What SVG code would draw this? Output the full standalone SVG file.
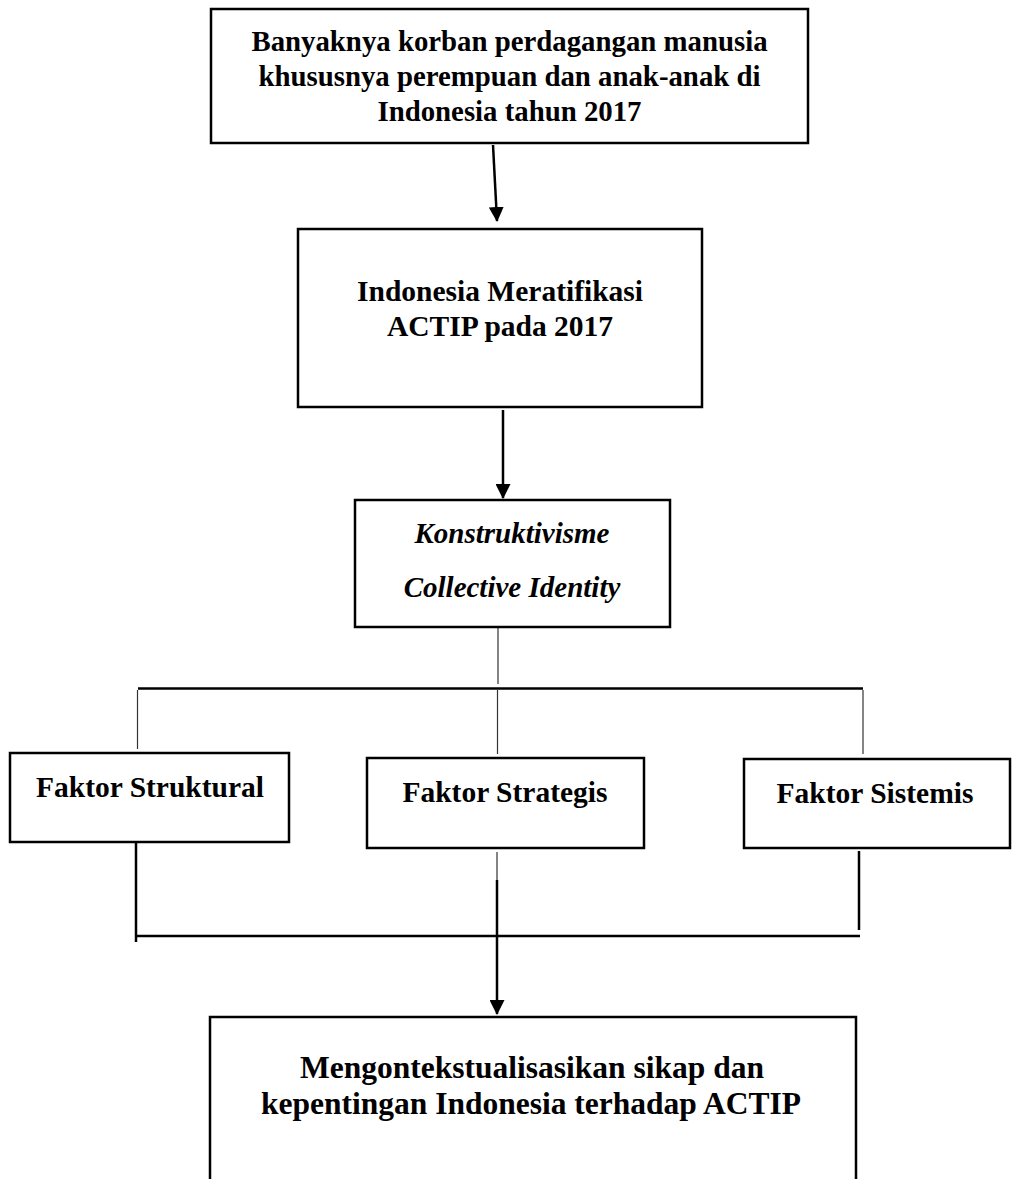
<svg xmlns="http://www.w3.org/2000/svg" width="1012" height="1179" viewBox="0 0 1012 1179">
<style>
.box{fill:#fff;stroke:#000;stroke-width:2.5}
.t{font-family:"Liberation Serif","Times New Roman",serif;font-weight:bold;fill:#000;text-anchor:middle}
.i{font-style:italic}
.thin{stroke:#333;stroke-width:1.2;fill:none}
.thick{stroke:#000;stroke-width:2.5;fill:none}
</style>
<defs>
<marker id="ah" markerWidth="15" markerHeight="15" refX="14" refY="7.5" orient="auto" markerUnits="userSpaceOnUse" viewBox="0 0 15 15">
<path d="M0,0 L15,7.5 L0,15 z" fill="#000"/>
</marker>
</defs>
<rect width="1012" height="1179" fill="#fff"/>
<g id="connectors">
<line class="thick" x1="493" y1="145" x2="497" y2="221" marker-end="url(#ah)"/>
<line class="thick" x1="503" y1="410" x2="503" y2="498" marker-end="url(#ah)"/>
<line class="thin" x1="498" y1="628" x2="498" y2="684"/>
<line class="thick" x1="138" y1="688.5" x2="863" y2="688.5"/>
<line class="thin" x1="137.5" y1="690" x2="137.5" y2="749"/>
<line class="thin" x1="497.5" y1="690" x2="497.5" y2="754"/>
<line class="thin" x1="863" y1="690" x2="863" y2="754"/>
<line class="thick" x1="136" y1="835" x2="136" y2="942"/>
<line class="thin" x1="497" y1="852" x2="497" y2="882"/>
<line class="thick" x1="859" y1="851" x2="859" y2="930"/>
<line class="thick" x1="136" y1="936" x2="860" y2="936"/>
<line class="thick" x1="497" y1="880" x2="497" y2="1014" marker-end="url(#ah)"/>
</g>
<g id="n1">
<rect class="box" x="211" y="9" width="597" height="134"/>
<text class="t" x="509.5" y="51" font-size="28.8">Banyaknya korban perdagangan manusia</text>
<text class="t" x="509.5" y="86" font-size="28.8">khususnya perempuan dan anak-anak di</text>
<text class="t" x="509.5" y="121" font-size="28.8">Indonesia tahun 2017</text>
</g>
<g id="n2">
<rect class="box" x="298" y="229" width="404" height="178"/>
<text class="t" x="500" y="301" font-size="29.5">Indonesia Meratifikasi</text>
<text class="t" x="500" y="336" font-size="29.5">ACTIP pada 2017</text>
</g>
<g id="n3">
<rect class="box" x="355" y="500" width="315" height="127"/>
<text class="t i" x="512" y="543" font-size="29">Konstruktivisme</text>
<text class="t i" x="512" y="597" font-size="29">Collective Identity</text>
</g>
<g id="n4">
<rect class="box" x="10" y="753" width="279" height="89"/>
<text class="t" x="150" y="797" font-size="29.5">Faktor Struktural</text>
</g>
<g id="n5">
<rect class="box" x="367" y="758" width="277" height="90"/>
<text class="t" x="505" y="802" font-size="29.5">Faktor Strategis</text>
</g>
<g id="n6">
<rect class="box" x="744" y="759" width="266" height="89"/>
<text class="t" x="875" y="803" font-size="29.5">Faktor Sistemis</text>
</g>
<g id="n7">
<path class="thick" d="M210,1182 V1017 H856 V1182"/>
<text class="t" x="532" y="1078" font-size="31.5">Mengontekstualisasikan sikap dan</text>
<text class="t" x="531" y="1114" font-size="31.5">kepentingan Indonesia terhadap ACTIP</text>
</g>
</svg>
